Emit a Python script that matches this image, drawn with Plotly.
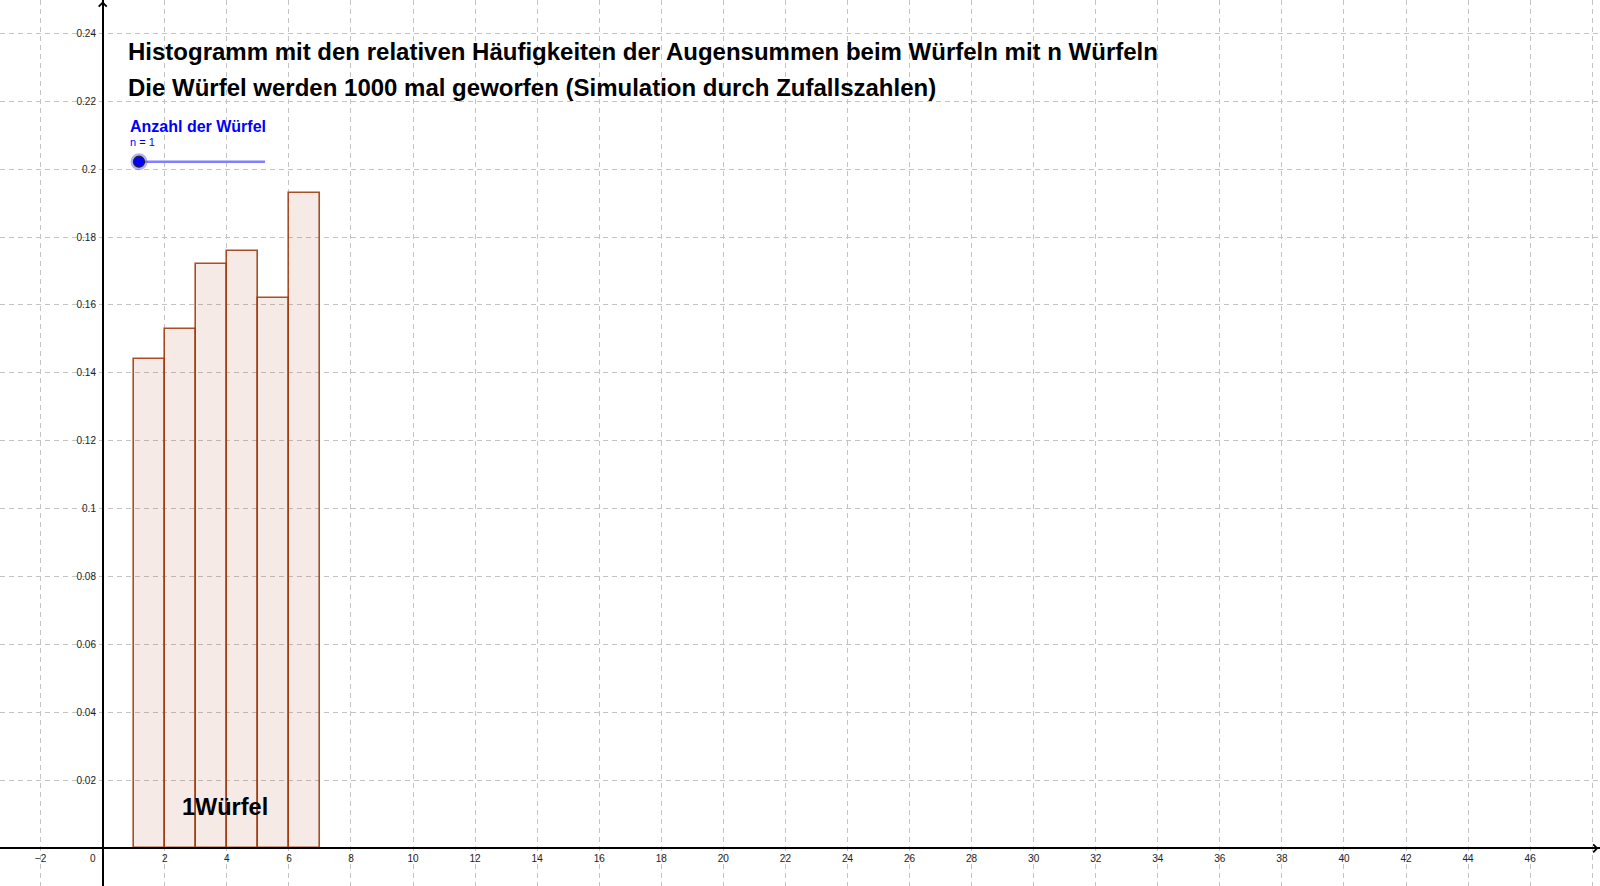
import plotly.graph_objects as go

# ---- data ----
augensumme = [1, 2, 3, 4, 5, 6]
rel_haeufigkeit = [0.144, 0.153, 0.172, 0.176, 0.162, 0.193]

x_tickvals = [-2, 0, 2, 4, 6, 8, 10, 12, 14, 16, 18, 20, 22, 24, 26, 28, 30, 32, 34, 36, 38, 40, 42, 44, 46, 48]
x_ticktext = ["\u22122", "", "2", "4", "6", "8", "10", "12", "14", "16", "18", "20", "22", "24", "26",
              "28", "30", "32", "34", "36", "38", "40", "42", "44", "46", ""]
y_tickvals = [0.02, 0.04, 0.06, 0.08, 0.10, 0.12, 0.14, 0.16, 0.18, 0.20, 0.22, 0.24]
y_ticktext = ["0.02", "0.04", "0.06", "0.08", "0.1", "0.12", "0.14", "0.16", "0.18", "0.2", "0.22", "0.24"]

title_line1 = "Histogramm mit den relativen Häufigkeiten der Augensummen beim Würfeln mit n Würfeln"
title_line2 = "Die Würfel werden 1000 mal geworfen (Simulation durch Zufallszahlen)"
slider_caption = "Anzahl der Würfel"
n_wuerfel = 1

W, H = 1600, 886
XR = [-3.31, 48.25]
YR = [-0.0111, 0.2498]
FONT = "Liberation Sans, Arial, sans-serif"


def px(x):
    return x / W


def py(y):
    return 1 - y / H


fig = go.Figure()
fig.add_trace(go.Bar(
    x=augensumme, y=rel_haeufigkeit, width=1, offset=0,
    marker=dict(color="rgba(153,51,0,0.1)", line=dict(color="rgba(160,60,15,0.9)", width=1.6)),
    hoverinfo="x+y", showlegend=False,
))

grid = dict(showgrid=True, gridcolor="#c4c4c4", gridwidth=1, griddash="5px,4px")

fig.update_layout(
    width=W, height=H, margin=dict(l=0, r=0, t=0, b=0),
    paper_bgcolor="white", plot_bgcolor="white",
    font=dict(family=FONT, color="#222"),
    xaxis=dict(range=XR, tickvals=x_tickvals, ticktext=x_ticktext, anchor="free",
               position=(0 - YR[0]) / (YR[1] - YR[0]), showline=True, linecolor="black", linewidth=1.5,
               zeroline=False, ticks="", tickfont=dict(size=10, family=FONT, color="#222"),
               automargin=False, ticklabelstandoff=1, **grid),
    yaxis=dict(range=YR, tickvals=y_tickvals, ticktext=y_ticktext, anchor="free",
               position=(0 - XR[0]) / (XR[1] - XR[0]), showline=True, linecolor="black", linewidth=1.5,
               zeroline=False, ticks="", tickfont=dict(size=10, family=FONT, color="#222"),
               automargin=False, ticklabelstandoff=4, **grid),
    bargap=0,
)

annotations = [
    dict(text="0", x=-0.15, y=0, xref="x", yref="y", xanchor="right", yanchor="top", yshift=-3,
         showarrow=False, font=dict(size=10, family=FONT, color="#222")),
    dict(text=f"<b>{title_line1}</b>", x=px(126), y=py(51.7), xref="paper", yref="paper",
         xanchor="left", yanchor="middle", showarrow=False, font=dict(size=24, family=FONT, color="black")),
    dict(text=f"<b>{title_line2}</b>", x=px(126), y=py(87.8), xref="paper", yref="paper",
         xanchor="left", yanchor="middle", showarrow=False, font=dict(size=24, family=FONT, color="black")),
    dict(text=f"<b>{slider_caption}</b>", x=px(128), y=py(126), xref="paper", yref="paper",
         xanchor="left", yanchor="middle", showarrow=False, font=dict(size=16, family=FONT, color="#0000ff")),
    dict(text=f"n = {n_wuerfel}", x=px(127.5), y=py(142), xref="paper", yref="paper",
         xanchor="left", yanchor="middle", showarrow=False, font=dict(size=11, family=FONT, color="#0000ff")),
    dict(text=f"<b>{n_wuerfel}Würfel</b>", x=px(179.5), y=py(806.7), xref="paper", yref="paper",
         xanchor="left", yanchor="middle", showarrow=False, font=dict(size=23.5, family=FONT, color="black")),
    # axis arrows
    dict(text="", x=XR[1] - 0.05, y=0, ax=XR[1] - 1.0, ay=0, xref="x", yref="y", axref="x", ayref="y",
         showarrow=True, arrowhead=4, arrowsize=1.2, arrowwidth=1.3, arrowcolor="black"),
    dict(text="", x=0, y=YR[1] - 0.0004, ax=0, ay=YR[1] - 0.008, xref="x", yref="y", axref="x", ayref="y",
         showarrow=True, arrowhead=4, arrowsize=1.2, arrowwidth=1.3, arrowcolor="black"),
]
fig.update_layout(annotations=annotations)

# slider widget
fig.update_layout(shapes=[
    dict(type="line", xref="paper", yref="paper", x0=px(139), x1=px(265), y0=py(161.7), y1=py(161.7),
         line=dict(color="#8080ff", width=2.5)),
    dict(type="circle", xref="paper", yref="paper", x0=px(139 - 8.5), x1=px(139 + 8.5),
         y0=py(161.7 + 8.5), y1=py(161.7 - 8.5), fillcolor="rgba(80,80,255,0.45)", line=dict(width=0)),
    dict(type="circle", xref="paper", yref="paper", x0=px(139 - 5.5), x1=px(139 + 5.5),
         y0=py(161.7 + 5.5), y1=py(161.7 - 5.5), fillcolor="#0000ff", line=dict(color="#222", width=1.2)),
])

fig.write_html("out.html", config={"displayModeBar": False},
               post_script="document.body.style.margin='0px';document.body.style.overflow='hidden';")
